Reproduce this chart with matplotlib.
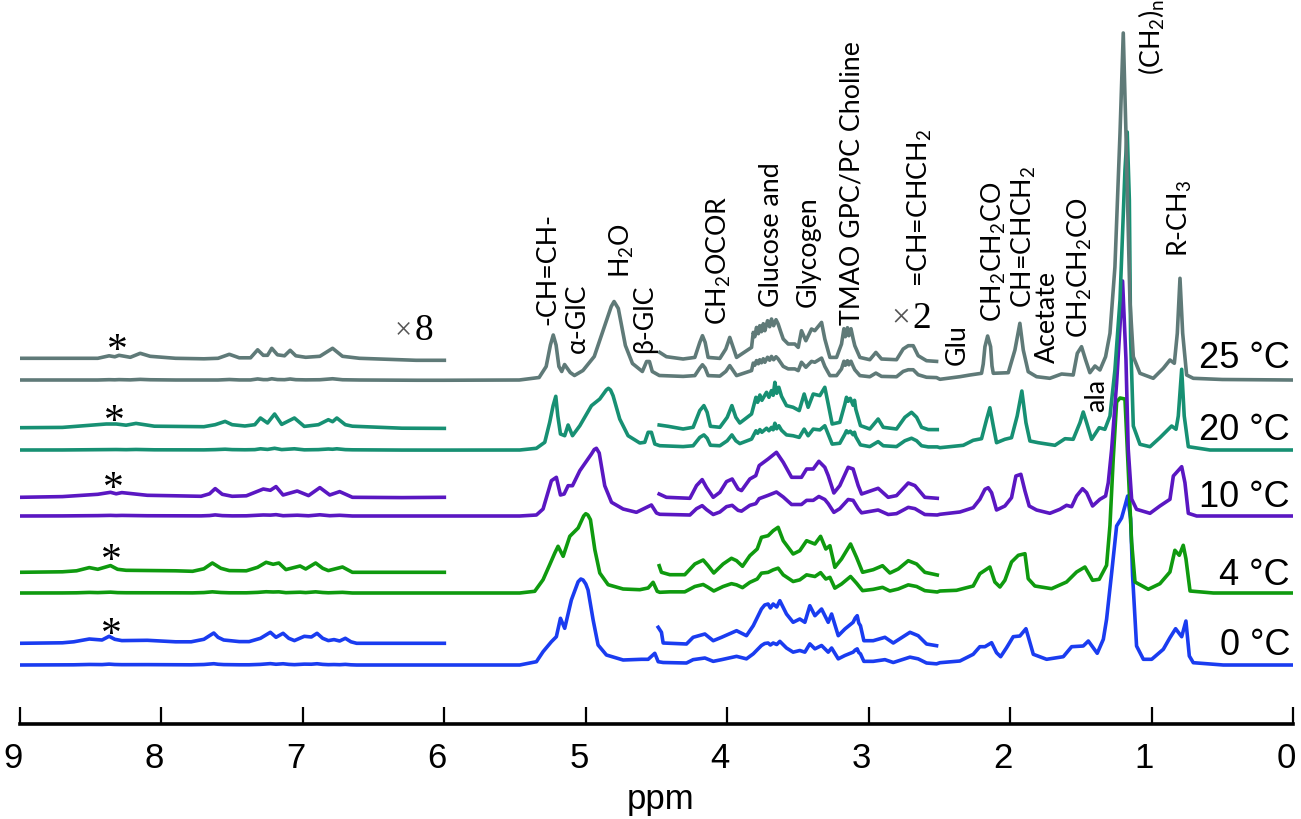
import numpy as np
import matplotlib
matplotlib.use("Agg")
import matplotlib.pyplot as plt
from matplotlib.transforms import ScaledTranslation

# temperature labels and colours, bottom trace first
temps = ["0 °C", "4 °C", "10 °C", "20 °C", "25 °C"]
colors = ["#1a3cf0", "#0f9a0f", "#5a17c2", "#179073", "#5f7a78"]

# height of each baseline, and the lift of the x8 and x2 traces above it
base = [59, 131, 208, 274, 344]
lift8 = [21.7, 20.7, 18.7, 22.3, 21.7]
lift2 = [20, 18, 17.7, 20.7, 19.3]
# small constant between the x2 trace and the full trace
shift2 = [3, 2, 2, 6.5, 5.5]

# x8 region, 9 - 6 ppm
blue_arom_ppm = [9.0, 8.7, 8.62, 8.51, 8.42, 8.37, 8.33, 8.28, 8.1, 7.9, 7.79, 7.70, 7.63, 7.6, 7.56, 7.45, 7.38, 7.30, 7.23, 7.19, 7.14, 7.10, 7.06, 6.99, 6.94, 6.90, 6.86, 6.82, 6.78, 6.74, 6.70, 6.66, 6.62, 6.3, 6.0]
blue_arom = [0, 0.5, 1.5, 4.3, 3.3, 7, 4, 2.7, 3, 1.5, 1.5, 4, 10.3, 6, 3.3, 1.7, 1.7, 5, 11, 6, 10, 5, 2.7, 7, 6.3, 10, 5, 2.7, 3.7, 2.3, 5, 1.5, 0, 0, 0]
green_arom_ppm = [9.0, 8.7, 8.6, 8.51, 8.45, 8.36, 8.31, 8.25, 7.9, 7.78, 7.70, 7.64, 7.58, 7.52, 7.40, 7.32, 7.26, 7.21, 7.17, 7.12, 7.02, 6.98, 6.91, 6.86, 6.82, 6.72, 6.65, 6.3, 6.0]
green_arom = [0, 0.5, 1.5, 4.7, 3, 6.7, 3, 2, 1.5, 1, 3.5, 9.3, 4, 1.7, 1.5, 5, 10, 8, 9.3, 2.7, 6.3, 3.3, 9.3, 4, 1.7, 5.3, 0, 0, 0]
purple_arom_ppm = [9.0, 8.7, 8.45, 8.36, 8.32, 8.28, 8.1, 7.9, 7.72, 7.66, 7.62, 7.57, 7.50, 7.40, 7.28, 7.23, 7.19, 7.14, 7.04, 6.96, 6.88, 6.81, 6.74, 6.65, 6.3, 6.0]
purple_arom = [0, 0.7, 3, 5, 3.5, 4.7, 2, 1.5, 1, 3.5, 8.7, 3, 1, 1.5, 8.3, 7, 10.7, 2.3, 6.3, 1.7, 9.7, 2.3, 5.7, 0, -0.3, 0]
teal_arom_ppm = [9.0, 8.7, 8.39, 8.32, 8.25, 8.18, 8.05, 7.7, 7.62, 7.55, 7.5, 7.41, 7.34, 7.30, 7.25, 7.20, 7.15, 7.06, 6.99, 6.89, 6.82, 6.79, 6.76, 6.70, 6.65, 6.3, 6.0]
teal_arom = [0, 0.3, 3.7, 3.7, 2.5, 4.3, 1.5, 1, 3, 6.3, 3, 1.7, 3, 9.7, 4.7, 13.7, 3.3, 9.7, 1.3, 3, 8, 6, 9.7, 3, 1.5, -0.5, -0.7]
gray_arom_ppm = [9.0, 8.7, 8.45, 8.37, 8.33, 8.30, 8.22, 8.15, 8.08, 7.9, 7.7, 7.6, 7.52, 7.45, 7.37, 7.32, 7.28, 7.25, 7.22, 7.18, 7.13, 7.09, 7.05, 6.98, 6.88, 6.79, 6.72, 6.6, 6.4, 6.2, 6.0]
gray_arom = [0, 0, 0, 2.5, 1.5, 3, 1, 5, 2, 0, -0.5, 0, 4, 0.5, 0.5, 8.5, 3, 3, 10, 3.5, 2.5, 8, 2.5, 1, 2, 10, 2, 0, -1, -2, -2]

# water and olefinic region, full scale
blue_left_ppm = [5.467, 5.349, 5.302, 5.243, 5.208, 5.179, 5.149, 5.102, 5.054, 5.035, 5.019, 5.0, 4.984, 4.948, 4.913, 4.854, 4.736, 4.606, 4.559, 4.512, 4.488]
blue_left = [0, 3.3, 13.3, 23.3, 28.3, 46.7, 36.7, 65, 83.3, 86, 85, 81, 75, 45, 20, 10, 5, 5.7, 5.7, 11.7, 3.3]
green_left_ppm = [5.467, 5.361, 5.302, 5.255, 5.219, 5.196, 5.160, 5.113, 5.054, 5.015, 5.000, 4.985, 4.967, 4.936, 4.901, 4.842, 4.736, 4.618, 4.559, 4.524, 4.495, 4.477]
green_left = [0, 1.7, 13.3, 28.3, 40, 46.7, 36.7, 56.7, 65, 77, 79.3, 78, 73.3, 43.3, 20, 8.3, 4, 3.3, 5, 10.7, 1.7, 0.7]
purple_left_ppm = [5.467, 5.349, 5.302, 5.267, 5.243, 5.208, 5.179, 5.153, 5.125, 5.094, 5.042, 4.960, 4.94, 4.925, 4.905, 4.866, 4.818, 4.736, 4.642, 4.583, 4.536, 4.500, 4.477]
purple_left = [0, 1, 7, 23.7, 35.3, 38.7, 21, 22, 30.3, 30.3, 45.3, 62, 66.5, 67.7, 63, 30.3, 13.7, 7, 3.7, 7.7, 11, 3, 1.7]
teal_left_ppm = [5.467, 5.349, 5.290, 5.255, 5.231, 5.212, 5.198, 5.179, 5.149, 5.125, 5.094, 5.042, 4.960, 4.901, 4.855, 4.84, 4.825, 4.807, 4.760, 4.701, 4.618, 4.583, 4.559, 4.536, 4.512, 4.477]
teal_left = [0, 1.7, 7.7, 27.7, 44.3, 53.7, 34.3, 16, 14.3, 25, 14.3, 24.3, 44.3, 51, 60, 61.7, 60, 54.3, 31, 14.3, 7, 7.7, 17.7, 17.7, 6, 4.3]
gray_left_ppm = [5.47, 5.33, 5.28, 5.25, 5.23, 5.21, 5.19, 5.17, 5.15, 5.11, 5.08, 5.02, 4.94, 4.88, 4.82, 4.80, 4.77, 4.72, 4.67, 4.60, 4.57, 4.55, 4.53, 4.48]
gray_left = [0, 2.5, 13.5, 35, 45, 35, 13.5, 8.5, 15.5, 7.5, 4.5, 9.5, 23.5, 48.5, 73.5, 78.5, 71.5, 34.5, 16.5, 8.5, 18.5, 18.5, 8.5, 4.5]

# x2 region, about 4.5 - 2.5 ppm
blue_sugar_ppm = [4.488, 4.465, 4.453, 4.288, 4.241, 4.158, 4.099, 4.040, 3.934, 3.864, 3.816, 3.758, 3.735, 3.711, 3.695, 3.675, 3.65, 3.628, 3.581, 3.534, 3.487, 3.451, 3.416, 3.380, 3.333, 3.286, 3.262, 3.215, 3.168, 3.110, 3.095, 3.081, 3.07, 3.058, 3.034, 2.968, 2.885, 2.826, 2.708, 2.650, 2.591, 2.520]
blue_sugar = [17.7, 12.7, 2, 1, 7.7, 11, 4.3, 7.7, 14.3, 9.3, 19.3, 36, 40, 41, 37, 41, 38, 44.3, 31, 22.7, 26, 22.7, 39.3, 29.3, 36, 22.7, 31, 9.3, 16, 22.7, 27, 29.3, 22, 19.3, 4.3, 4.3, 7.7, 2, 12.7, 9.3, 1, -0.7]
green_sugar_ppm = [4.481, 4.465, 4.406, 4.300, 4.229, 4.170, 4.135, 4.095, 4.029, 3.970, 3.934, 3.892, 3.840, 3.788, 3.758, 3.711, 3.675, 3.640, 3.604, 3.534, 3.487, 3.439, 3.380, 3.340, 3.303, 3.274, 3.239, 3.192, 3.128, 3.086, 3.043, 2.968, 2.902, 2.850, 2.791, 2.720, 2.661, 2.603, 2.515]
green_sugar = [9.3, 2.7, 0.3, 0.3, 11, 15, 9.3, 2, 11, 16.7, 14.3, 8.7, 19.3, 26, 37.7, 39.3, 44.3, 47.7, 34.3, 21, 24.3, 34.3, 31, 38.7, 26, 29.3, 7.7, 16, 31, 17.7, 2.7, 5.3, 9.3, 2, 6, 14.3, 11, 2.7, 0]
purple_sugar_ppm = [4.481, 4.430, 4.264, 4.217, 4.177, 4.147, 4.099, 4.052, 4.005, 3.965, 3.923, 3.899, 3.840, 3.798, 3.774, 3.711, 3.652, 3.604, 3.545, 3.475, 3.439, 3.392, 3.352, 3.310, 3.286, 3.246, 3.204, 3.145, 3.110, 3.074, 3.050, 2.933, 2.862, 2.803, 2.720, 2.673, 2.603, 2.515]
purple_sugar = [4.3, 1, 0, 12.7, 18.7, 11, 1, 6, 16.7, 19.3, 9.3, 7.7, 19.3, 22.7, 32.7, 39.3, 46, 36, 21, 21, 29.3, 29.3, 37, 31, 22.7, 5.3, 12.7, 31, 29.3, 12.7, 4.3, 10, 1, 2.7, 15.3, 12.7, 1, 0]
teal_sugar_ppm = [4.481, 4.418, 4.312, 4.241, 4.194, 4.165, 4.142, 4.119, 4.052, 4.000, 3.967, 3.939, 3.911, 3.828, 3.797, 3.785, 3.769, 3.755, 3.722, 3.705, 3.687, 3.675, 3.663, 3.65, 3.635, 3.616, 3.581, 3.534, 3.491, 3.456, 3.428, 3.392, 3.345, 3.310, 3.286, 3.258, 3.204, 3.168, 3.157, 3.145, 3.13, 3.11, 3.10, 3.091, 3.058, 2.992, 2.933, 2.897, 2.803, 2.744, 2.697, 2.661, 2.626, 2.579, 2.515]
teal_sugar = [4.3, 3, 0.3, 2, 18.7, 23.7, 17, 3, 2, 12, 23.7, 12, 6.3, 15.3, 32, 27, 34.3, 29, 37, 32, 38.7, 34, 47, 36, 42, 33, 23.7, 22, 18.7, 35.3, 22, 35.3, 33.7, 42, 25.3, 5.3, 7, 25.3, 32, 28, 31, 24, 29, 20, 3.7, 0.3, 10.3, 2, 0.3, 12, 17, 12, 2, -0.3, -0.3]
gray_sugar_ppm = [4.477, 4.430, 4.312, 4.229, 4.194, 4.175, 4.156, 4.135, 4.052, 4.010, 3.982, 3.958, 3.934, 3.828, 3.816, 3.805, 3.793, 3.78, 3.77, 3.758, 3.745, 3.734, 3.715, 3.70, 3.687, 3.672, 3.655, 3.64, 3.622, 3.604, 3.569, 3.522, 3.498, 3.475, 3.444, 3.404, 3.381, 3.333, 3.310, 3.274, 3.227, 3.192, 3.175, 3.165, 3.15, 3.14, 3.125, 3.11, 3.098, 3.062, 2.992, 2.949, 2.909, 2.803, 2.756, 2.720, 2.685, 2.650, 2.591, 2.520]
gray_sugar = [8.3, 4, 1.7, 3.3, 18.3, 25, 18.3, 3.3, 2.3, 11.7, 23.3, 13.3, 3.3, 13.3, 28.3, 24, 33.3, 27, 35, 29, 37, 30, 40, 34, 41.7, 35, 41, 36.7, 29, 21.7, 16.7, 16.7, 13.3, 30, 20, 31.7, 30, 38.3, 21.7, 3.3, 3.3, 16.7, 32, 24, 33, 25, 32, 22, 15, 3.3, 1, 8.3, 1.7, 1, 11.7, 15, 15, 5, 0, -0.7]

# aliphatic region, full scale
blue_right_ppm = [2.496, 2.355, 2.261, 2.214, 2.178, 2.131, 2.096, 2.067, 2.025, 1.978, 1.931, 1.888, 1.860, 1.836, 1.742, 1.624, 1.565, 1.483, 1.447, 1.384, 1.341, 1.318, 1.282, 1.247, 1.212, 1.188, 1.169, 1.148, 1.134, 1.106, 1.058, 0.999, 0.917, 0.870, 0.830, 0.787, 0.757, 0.733, 0.705, 0.493, 0.009]
blue_right = [2.3, 4, 10.7, 18.3, 18.3, 22.3, 12.3, 8.3, 17.3, 28.3, 29, 36.3, 22.3, 10.7, 5.7, 8.3, 18.3, 19, 24, 11.7, 25.7, 45.7, 92.3, 139, 147, 159, 169, 146, 89, 19, 5.7, 5.7, 15.7, 27.3, 36.3, 28.3, 44, 9, 2.3, 0, 0]
green_right_ppm = [2.496, 2.379, 2.261, 2.214, 2.143, 2.108, 2.072, 2.037, 1.990, 1.942, 1.895, 1.872, 1.825, 1.707, 1.601, 1.530, 1.471, 1.417, 1.370, 1.318, 1.294, 1.271, 1.247, 1.223, 1.188, 1.165, 1.141, 1.117, 1.023, 0.941, 0.870, 0.835, 0.804, 0.776, 0.757, 0.728, 0.563, 0.009]
green_right = [2, 2.7, 7, 19.3, 26, 11, 6, 12.7, 31, 37.7, 39.3, 14.3, 7, 4.3, 11, 21, 26, 12.7, 13.7, 27.7, 67.7, 134, 191, 195, 194, 124, 51, 11, 3.7, 9.3, 21, 42.7, 37.7, 47.7, 34.3, 2, 0, 0]
purple_right_ppm = [2.496, 2.355, 2.261, 2.214, 2.178, 2.155, 2.131, 2.096, 2.037, 1.990, 1.959, 1.924, 1.895, 1.865, 1.813, 1.719, 1.648, 1.601, 1.565, 1.530, 1.488, 1.459, 1.417, 1.365, 1.325, 1.306, 1.282, 1.247, 1.223, 1.205, 1.181, 1.165, 1.141, 1.106, 1.011, 0.941, 0.870, 0.846, 0.787, 0.764, 0.740, 0.681, 0.009]
purple_right = [1.7, 4, 8.3, 16.7, 26.7, 28.3, 23.3, 6, 10, 18.3, 40, 41.7, 25, 10, 6, 2.7, 6.7, 10.7, 9.3, 20, 27.3, 23.3, 10, 16.7, 20, 33.3, 67, 133, 190, 235, 157, 67, 17, 6.7, 2.7, 10, 16.7, 40, 49.3, 33.3, 2.7, 0, 0]
teal_right_ppm = [2.496, 2.331, 2.261, 2.202, 2.166, 2.143, 2.119, 2.096, 2.037, 1.990, 1.950, 1.917, 1.888, 1.860, 1.801, 1.683, 1.612, 1.554, 1.506, 1.483, 1.459, 1.424, 1.370, 1.330, 1.294, 1.259, 1.223, 1.188, 1.172, 1.157, 1.148, 1.129, 1.082, 1.011, 0.941, 0.858, 0.827, 0.811, 0.787, 0.769, 0.740, 0.587, 0.009]
teal_right = [2.3, 4.7, 9.7, 11.3, 30.7, 42.3, 24, 7.3, 10.7, 12.3, 34, 59, 27.3, 9, 7.3, 4.7, 11.3, 10.7, 27.3, 38, 27.3, 10.7, 22.3, 20.7, 34, 80, 150, 280, 318, 250, 110, 24, 5.7, 3.3, 12.3, 24, 20.7, 34, 80.7, 34, 3.3, 0, 0]
gray_right_ppm = [2.496, 2.355, 2.284, 2.202, 2.19, 2.178, 2.159, 2.138, 2.128, 2.119, 2.013, 1.966, 1.931, 1.907, 1.872, 1.813, 1.719, 1.636, 1.554, 1.525, 1.495, 1.466, 1.436, 1.400, 1.365, 1.325, 1.294, 1.259, 1.223, 1.200, 1.181, 1.153, 1.129, 1.082, 0.988, 0.917, 0.870, 0.839, 0.818, 0.799, 0.780, 0.752, 0.705, 0.5, 0.009]
gray_right = [0.7, 3.3, 5, 6.7, 16, 33.3, 44, 33.3, 14, 6.7, 7.3, 30, 56.7, 30, 8.3, 3.3, 1.7, 6, 5, 26.7, 33.3, 20, 7.3, 14, 10, 23.3, 46.7, 113, 247, 347, 247, 80, 23.3, 6.7, 1.7, 11.7, 20, 16.7, 46.7, 101.7, 46.7, 5, 1.7, 0.5, 0]

arom_ppm = [blue_arom_ppm, green_arom_ppm, purple_arom_ppm, teal_arom_ppm, gray_arom_ppm]
arom = [blue_arom, green_arom, purple_arom, teal_arom, gray_arom]
left_ppm = [blue_left_ppm, green_left_ppm, purple_left_ppm, teal_left_ppm, gray_left_ppm]
left = [blue_left, green_left, purple_left, teal_left, gray_left]
sugar_ppm = [blue_sugar_ppm, green_sugar_ppm, purple_sugar_ppm, teal_sugar_ppm, gray_sugar_ppm]
sugar = [blue_sugar, green_sugar, purple_sugar, teal_sugar, gray_sugar]
right_ppm = [blue_right_ppm, green_right_ppm, purple_right_ppm, teal_right_ppm, gray_right_ppm]
right = [blue_right, green_right, purple_right, teal_right, gray_right]

ppm_ticks = [9, 8, 7, 6, 5, 4, 3, 2, 1, 0]

W, H = 1301, 820
plt.rcParams["font.family"] = ["Liberation Sans", "DejaVu Sans"]
plt.rcParams["mathtext.default"] = "regular"

fig = plt.figure(figsize=(W / 100, H / 100), dpi=100)
ax = fig.add_axes([20 / W, (H - 725) / H, 1273 / W, 725 / H])
ax.set_xlim(9, 0)
ax.set_ylim(0, 725)
ax.patch.set_alpha(0)

lw = 2.6
for i, c in enumerate(colors):
    a8 = np.array(arom[i], float)
    a2 = np.array(sugar[i], float)
    s2 = np.array(sugar_ppm[i], float)
    # full trace: the scaled regions divided back down
    x = np.concatenate([arom_ppm[i], left_ppm[i], s2[2:], right_ppm[i]])
    y = np.concatenate([a8 / 8, left[i], (a2[2:] + shift2[i]) / 2, right[i]])
    ax.plot(x, base[i] + y, color=c, lw=lw, zorder=2 + i)
    ax.plot(arom_ppm[i], base[i] + lift8[i] + a8, color=c, lw=lw, zorder=2 + i)
    ax.plot(s2, base[i] + lift2[i] + a2, color=c, lw=lw, zorder=2 + i)

for s in ["top", "left", "right"]:
    ax.spines[s].set_visible(False)
ax.spines["bottom"].set_linewidth(2.6)
ax.set_yticks([])
ax.set_xticks(ppm_ticks)
ax.tick_params(axis="x", direction="in", length=12.5, width=1.6, pad=12, labelsize=25)
ax.set_xlabel("ppm", fontsize=25, labelpad=6, x=0.503)
shift = ScaledTranslation(-7 / 100, 0, fig.dpi_scale_trans)
for lab in ax.get_xticklabels():
    lab.set_transform(lab.get_transform() + shift)


def put(text, x, y, **kw):
    # x and y in picture pixels
    fig.text(x / W, 1 - y / H, text, **kw)


# peak labels, rotated, anchored at centre x and bottom y
peak_labels = [
    ("-CH=CH-", 548, 325), ("α-GlC", 577, 353), ("H$_2$O", 622, 278),
    ("β-GlC", 645, 353), ("CH$_2$OCOR", 719, 325), ("Glucose and", 771, 307),
    ("Glycogen", 808, 307), ("TMAO GPC/PC Choline", 852, 325),
    ("=CH=CHCH$_2$", 920, 287), ("Glu", 957, 365), ("CH$_2$CH$_2$CO", 994, 322),
    ("CH=CHCH$_2$", 1024, 308), ("Acetate", 1047, 363), ("CH$_2$CH$_2$CO", 1080, 338),
    ("ala", 1097, 412), ("(CH$_2$)$_n$", 1152, 75), ("R-CH$_3$", 1180, 257),
]
for text, px, py in peak_labels:
    put(text, px, py, rotation=90, ha="center", va="bottom", fontsize=19.3, family="Lato")

# temperature labels
temp_y = [655, 585, 507, 440, 368]
for t, py in zip(temps, temp_y):
    put(t, 1290, py, ha="right", va="baseline", fontsize=26)

# scale factors and the starred peak
put("×", 395, 338, ha="left", va="baseline", fontsize=22, color="#555555", family="Liberation Serif")
put("8", 415, 340, ha="left", va="baseline", fontsize=27, family="Liberation Serif")
put("×", 891, 326, ha="left", va="baseline", fontsize=24, color="#555555", family="Liberation Serif")
put("2", 912, 328, ha="left", va="baseline", fontsize=27, family="Liberation Serif")
star_pos = [(111, 636), (111, 562), (113, 490), (114.5, 423), (117, 352)]
for px, py in star_pos:
    put("*", px, py, ha="center", va="center", fontsize=30, family="Liberation Serif")

fig.savefig("out.png", dpi=100)
